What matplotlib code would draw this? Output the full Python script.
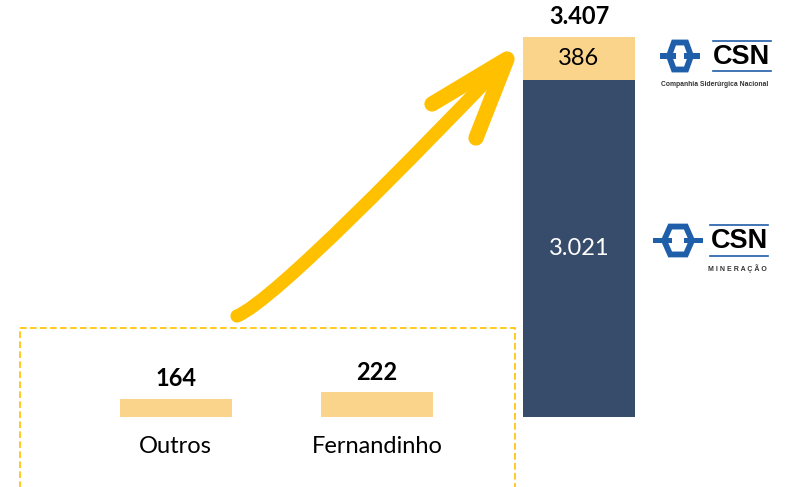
import matplotlib
matplotlib.use('Agg')
import matplotlib.pyplot as plt
from matplotlib.path import Path
from matplotlib.patches import PathPatch, Polygon, Rectangle

# contributions from the small mines
categories = ['Outros', 'Fernandinho']
values = [164, 222]

# stacked total: CSN Mineração (bottom) + CSN (top)
stack_names = ['CSN Mineração', 'CSN']
stack_values = [3021, 386]

NAVY = '#374C6B'
SAND = '#FBD48C'
GOLD = '#FFC000'
LOGO_BLUE = '#1F5EA8'
FONT = ['Lato', 'DejaVu Sans']
FS = 17

W, H = 787, 487
BASE_PX = 417          # pixel row of the value zero
PX_PER_UNIT = 337 / 3021


def fmt(v):
    return f'{v:,}'.replace(',', '.')


fig = plt.figure(figsize=(W / 100, H / 100), dpi=100)

# decoration layer in pixel coordinates (arrow, dashed frame, logos)
deco = fig.add_axes([0, 0, 1, 1])
deco.set_xlim(0, W)
deco.set_ylim(H, 0)
deco.axis('off')

ax = fig.add_axes([0, 0, 1, 1])
ax.set_xlim(0, W)
ax.set_ylim(-(H - BASE_PX) / PX_PER_UNIT, BASE_PX / PX_PER_UNIT)
ax.axis('off')

small_x = [175.5, 377]
stack_x = 579
bar_w = 112

ax.bar(small_x, values, width=bar_w, color=SAND)
for x, v, name in zip(small_x, values, categories):
    ax.annotate(fmt(v), (x, v), xytext=(0, 9), textcoords='offset points',
                ha='center', va='baseline', fontsize=FS, fontweight='bold',
                family=FONT)
    ax.annotate(name, (x, 0), xytext=(0, -26), textcoords='offset points',
                ha='center', va='baseline', fontsize=FS, family=FONT)

bottom = 0
for v, col, tc in zip(stack_values, [NAVY, SAND], ['white', 'black']):
    ax.bar(stack_x, v, width=bar_w, bottom=bottom, color=col)
    ax.text(stack_x, bottom + v / 2, fmt(v), ha='center', va='center',
            fontsize=FS, color=tc, family=FONT)
    bottom += v
ax.annotate(fmt(sum(stack_values)), (stack_x, bottom), xytext=(0, 9),
            textcoords='offset points', ha='center', va='baseline',
            fontsize=FS, fontweight='bold', family=FONT)

# dashed frame around the small contributors
deco.add_patch(Rectangle((20, 328), 495, 170, fill=False, edgecolor=GOLD,
                         lw=1.2, linestyle=(0, (4, 2))))

# growth arrow
curve = Path([(237, 316), (275, 300), (420, 150), (500, 67)],
             [Path.MOVETO, Path.CURVE4, Path.CURVE4, Path.CURVE4])
deco.add_patch(PathPatch(curve, fill=False, edgecolor=GOLD, lw=9.5,
                         capstyle='round'))
deco.plot([432, 507, 476], [104, 59, 138], color=GOLD, lw=11,
          solid_capstyle='round', solid_joinstyle='round')


def chain_link(cx, cy, w, h, reach):
    hexagon = [(cx - w * 0.28, cy - h / 2), (cx + w * 0.28, cy - h / 2),
               (cx + w * 0.5, cy), (cx + w * 0.28, cy + h / 2),
               (cx - w * 0.28, cy + h / 2), (cx - w * 0.5, cy)]
    deco.add_patch(Polygon(hexagon, closed=True, fill=False,
                           edgecolor=LOGO_BLUE, lw=4.2, joinstyle='miter'))
    bar_h = h * 0.2
    deco.add_patch(Rectangle((cx - w / 2 - reach, cy - bar_h / 2),
                             reach + w * 0.3, bar_h, color=LOGO_BLUE, lw=0))
    deco.add_patch(Rectangle((cx + w * 0.2, cy - bar_h / 2),
                             reach + w * 0.3, bar_h, color=LOGO_BLUE, lw=0))


def csn_logo(cx, y_top, y_bot, w, reach, text_x, sub, sub_size, sub_x):
    cy = (y_top + y_bot) / 2
    chain_link(cx, cy, w, (y_bot - y_top) * 0.9, reach)
    deco.plot([text_x, text_x + 58], [y_top, y_top], color=LOGO_BLUE, lw=1.2)
    deco.plot([text_x, text_x + 58], [y_bot, y_bot], color=LOGO_BLUE, lw=1.2)
    deco.text(text_x + 29, cy + 1, 'CSN', ha='center', va='center',
              fontsize=19.5, fontweight='bold', family=['Liberation Sans'])
    deco.text(sub_x, y_bot + 13, sub, ha='left', va='center',
              fontsize=sub_size, fontweight='bold', color='#333333',
              family=['Liberation Sans'])


csn_logo(680, 41, 71, 22, 9, 713, 'Companhia Siderúrgica Nacional', 4.9, 661)
csn_logo(678, 225, 256, 28, 11, 710, 'M I N E R A Ç Ã O', 5.0, 708)

fig.savefig('out.png', dpi=100)
